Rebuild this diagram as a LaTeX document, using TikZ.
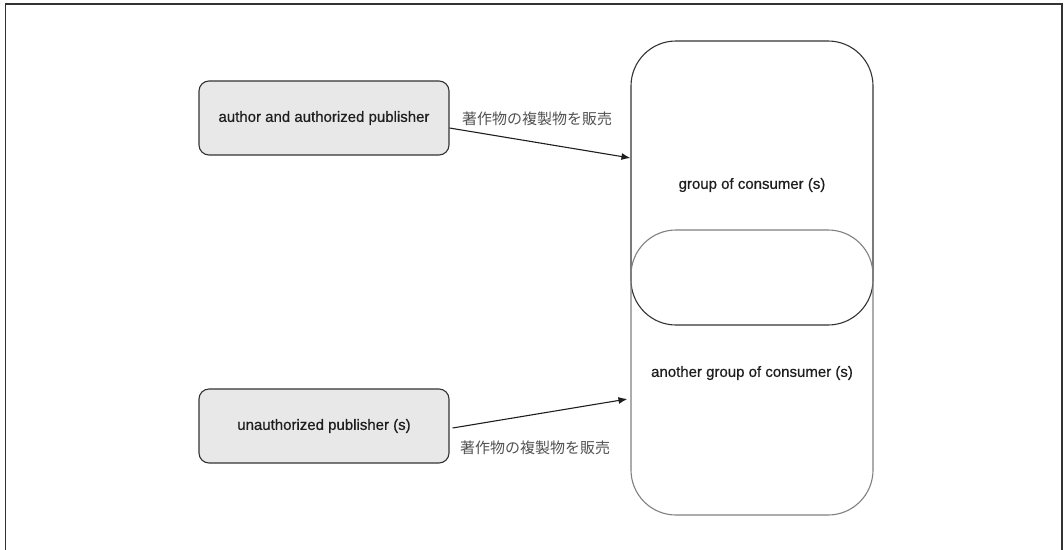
\documentclass[tikz,border=0pt]{standalone}
\usepackage{fontspec}
\setmainfont{Liberation Sans}[FakeBold=0.5]
\newfontfamily\boxfont{Liberation Sans}[FakeBold=0.6]
\newfontfamily\jpfont{Noto Sans CJK JP}
\usetikzlibrary{arrows.meta}
\definecolor{boxfill}{HTML}{E8E8E8}
\definecolor{darkline}{HTML}{333333}
\definecolor{greyline}{HTML}{808080}
\definecolor{txt}{HTML}{1E1E1E}
\tikzset{
  boxtext/.style={font=\boxfont\fontsize{15}{17}\selectfont, text=txt},
  actor/.style={draw=darkline, line width=1.1pt, fill=boxfill, rounded corners=10pt,
    minimum width=250pt, minimum height=74pt, inner sep=0pt, boxtext},
  crowd/.style={line width=1.1pt, rounded corners=45pt,
    minimum width=242pt, minimum height=284pt, inner sep=0pt},
  label/.style={font=\jpfont\fontsize{15}{17}\selectfont, text=darkline!85},
  sell/.style={-{Latex[length=9pt,width=7pt]}, line width=1.1pt, draw=txt},
  frame/.style={draw=darkline, line width=1.3pt}
}
\begin{document}
\begin{tikzpicture}[x=1pt,y=-1pt]
  \useasboundingbox (0,0) rectangle (1064,549);
  % open frame: top, left and right sides
  \draw[frame] (5.5,560) -- (5.5,4) -- (1062,4) -- (1062,560);

  % consumer groups (the lower one overlaps the upper one)
  \node[crowd, draw=darkline] (grp) at (752,183) {};
  \node[crowd, draw=greyline, minimum height=285pt] (other) at (752,372.5) {};
  \node[boxtext] (grplbl) at (752,185) {group of consumer (s)};
  \node[boxtext] (otherlbl) at (752,373) {another group of consumer (s)};

  % publishers
  \node[actor] (auth) at (324,118) {author and authorized publisher};
  \node[actor] (unauth) at (324,426) {unauthorized publisher (s)};

  % sales arrows
  \draw[sell] ([yshift=-10pt]auth.east) -- ([yshift=25pt]grp.west);
  \draw[sell] ([yshift=-2pt,xshift=3pt]unauth.east) -- ([yshift=-26.5pt,xshift=-3pt]other.west);

  \node[label] (l1) at (537,119) {著作物の複製物を販売};
  \node[label] (l2) at (535,448) {著作物の複製物を販売};
\end{tikzpicture}
\end{document}
